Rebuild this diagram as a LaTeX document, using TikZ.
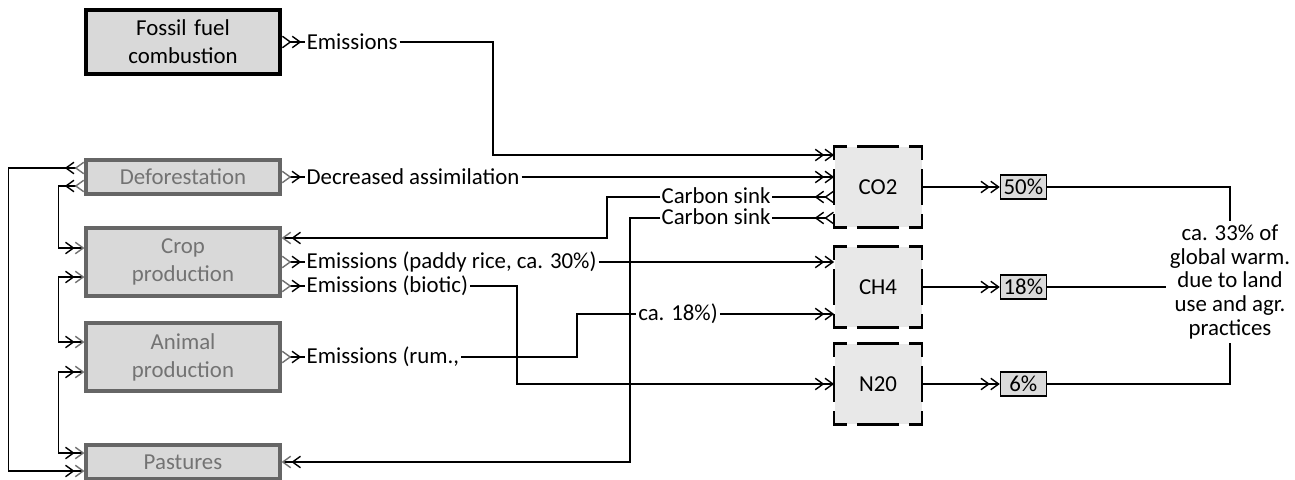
\documentclass[tikz,border=0pt]{standalone}
\usepackage{fontspec}
\setmainfont{Carlito}
\usetikzlibrary{arrows.meta, positioning, calc}
\tikzset{chev/.tip={Straight Barb[length=4.5pt,width=6.5pt,line width=0.8pt]}}
\tikzstyle{srcbox} = [rectangle, minimum width=3.88cm, text centered, text width=3.6cm, draw=black, line width=2pt, fill=gray!30, font=\fontsize{13}{16}\selectfont]
\tikzstyle{landbox} = [srcbox, draw=black!60, line width=1.8pt, text=black!55]
\tikzstyle{gasbox} = [rectangle, minimum width=1.74cm, minimum height=1.6cm, fill=gray!18]
\tikzstyle{sharebox} = [rectangle, draw=black, line width=0.6pt, fill=gray!28, inner sep=1.5pt, minimum width=0.92cm, minimum height=0.48cm]
\tikzstyle{flowtext} = [inner sep=1pt]
\tikzstyle{sinktext} = [inner sep=0.5pt, text height=7.5pt, text depth=0pt]
\tikzstyle{notetext} = [align=center, inner sep=2pt, font=\fontsize{13}{13.5}\selectfont]
\tikzstyle{gasedge} = [line width=1.5pt, line cap=rect, line join=miter]
\tikzstyle{link} = [line width=0.6pt]
\tikzstyle{outsrc} = [link, {chev[reversed]chev[reversed]}-]
\tikzstyle{outland} = [link, {chev[reversed,color=black!55]chev[reversed]}-]
\tikzstyle{outgas} = [link, {chev[reversed]chev[reversed]}-]
\tikzstyle{togas} = [link, -{chev[]chev[]}]
\tikzstyle{toland} = [link, -{chev[]chev[color=black!55]}]
\tikzstyle{loopland} = [link, {chev[reversed,color=black!55]chev[reversed]}-{chev[]chev[color=black!55]}]
\tikzstyle{pairland} = [link, {chev[color=black!55]chev[]}-{chev[]chev[color=black!55]}]

% dashed frame with corner brackets
\newcommand{\gasframe}[1]{%
  \draw[gasedge] ([shift={(0,12)}]#1.north west) -- (#1.north west) -- ++(12,0);
  \draw[gasedge] ([shift={(-12,0)}]#1.north east) -- (#1.north east) -- ++(0,12);
  \draw[gasedge] ([shift={(0,-12)}]#1.south east) -- (#1.south east) -- ++(-12,0);
  \draw[gasedge] ([shift={(12,0)}]#1.south west) -- (#1.south west) -- ++(0,-12);
  \draw[gasedge] ([shift={(-20,0)}]#1.north) -- ++(40,0);
  \draw[gasedge] ([shift={(-20,0)}]#1.south) -- ++(40,0);
  \draw[gasedge] ([shift={(0,-17)}]#1.west) -- ++(0,34);
  \draw[gasedge] ([shift={(0,-17)}]#1.east) -- ++(0,34);
}

\begin{document}
\begin{tikzpicture}[x=0.02cm, y=-0.02cm, font=\fontsize{13}{15}\selectfont]
  \useasboundingbox[fill=white] (0,0) rectangle (1295,480);

  % Sources (Left)
  \node (fossil) [srcbox, minimum height=1.28cm] at (183,42) {Fossil fuel\\combustion};
  \node (defor) [landbox, minimum height=0.68cm] at (183,177) {Deforestation};
  \node (crop) [landbox, minimum height=1.36cm] at (183,262) {Crop\\production};
  \node (animal) [landbox, minimum height=1.36cm] at (183,357) {Animal\\production};
  \node (past) [landbox, minimum height=0.68cm] at (183,462) {Pastures};

  % Gases (Center)
  \node (co2) [gasbox] at (878,187) {CO2};
  \node (ch4) [gasbox] at (878,287) {CH4};
  \node (n2o) [gasbox] at (878,384) {N20};
  \gasframe{co2}
  \gasframe{ch4}
  \gasframe{n2o}

  % Shares (Right)
  \node (s50) [sharebox, right=1.56cm of co2] {50\%};
  \node (s18) [sharebox, right=1.56cm of ch4] {18\%};
  \node (s6) [sharebox, right=1.56cm of n2o] {6\%};
  \node (note) [notetext] at (1230,282) {ca. 33\% of\\global warm.\\due to land\\use and agr.\\practices};

  % Flow labels
  \node (emis) [flowtext, right=0.46cm of fossil] {Emissions};
  \node (decr) [flowtext, right=0.46cm of defor] {Decreased assimilation};
  \node (paddy) [flowtext, right=0.46cm of crop] {Emissions (paddy rice, ca. 30\%)};
  \node (biotic) [flowtext, right=0.46cm of crop, yshift=-0.48cm] {Emissions (biotic)};
  \node (rum) [flowtext, right=0.46cm of animal] {Emissions (rum.,};
  \node (ca18) [flowtext] at (678,314) {ca. 18\%)};
  \node (sink1) [sinktext] at (716,197) {Carbon sink};
  \node (sink2) [sinktext] at (716,218) {Carbon sink};

  % Bends
  \coordinate (bendE) at (493,155);
  \coordinate (bendB) at (517,384);
  \coordinate (bendR) at (577,314);
  \coordinate (bendS1) at (607,238);
  \coordinate (bendS2) at (630,462);

  % Arrows (left lanes)
  \draw[loopland] ([shift={(0,-9)}]defor.west) -- ++(-76,0) |- ([shift={(0,9)}]past.west);
  \draw[loopland] ([shift={(0,9)}]defor.west) -- ++(-26,0) |- ([shift={(0,-14)}]crop.west);
  \draw[pairland] ([shift={(0,15)}]crop.west) -- ++(-26,0) |- ([shift={(0,-15)}]animal.west);
  \draw[pairland] ([shift={(0,15)}]animal.west) -- ++(-26,0) |- ([shift={(0,-9)}]past.west);

  % Arrows (to gases)
  \draw[outsrc] (fossil.east) -- (emis.west);
  \draw[togas] (emis.east) -| (bendE) -- (co2.west |- bendE);
  \draw[outland] (defor.east) -- (decr.west);
  \draw[togas] (decr.east) -- (decr.east -| co2.west);
  \draw[outland] (crop.east) -- (paddy.west);
  \draw[togas] (paddy.east) -- (paddy.east -| ch4.west);
  \draw[outland] (crop.east |- biotic) -- (biotic.west);
  \draw[togas] (biotic.east) -| (bendB) -- (n2o.west);
  \draw[outland] (animal.east) -- (rum.west);
  \draw[link] (rum.east) -| (bendR) -- (ca18.west);
  \draw[togas] (ca18.east) -- (ca18.east -| ch4.west);

  % Arrows (carbon sinks)
  \draw[outgas] (co2.west |- sink1) -- (sink1.east);
  \draw[toland] (sink1.west) -| (bendS1) -- (crop.east |- bendS1);
  \draw[outgas] (co2.west |- sink2) -- (sink2.east);
  \draw[toland] (sink2.west) -| (bendS2) -- (past.east);

  % Arrows (shares)
  \draw[togas] (co2) -- (s50);
  \draw[togas] (ch4) -- (s18);
  \draw[togas] (n2o) -- (s6);
  \draw[link] (s50) -| (note);
  \draw[link] (s18) -- (s18 -| note.west);
  \draw[link] (s6) -| (note);
\end{tikzpicture}
\end{document}
